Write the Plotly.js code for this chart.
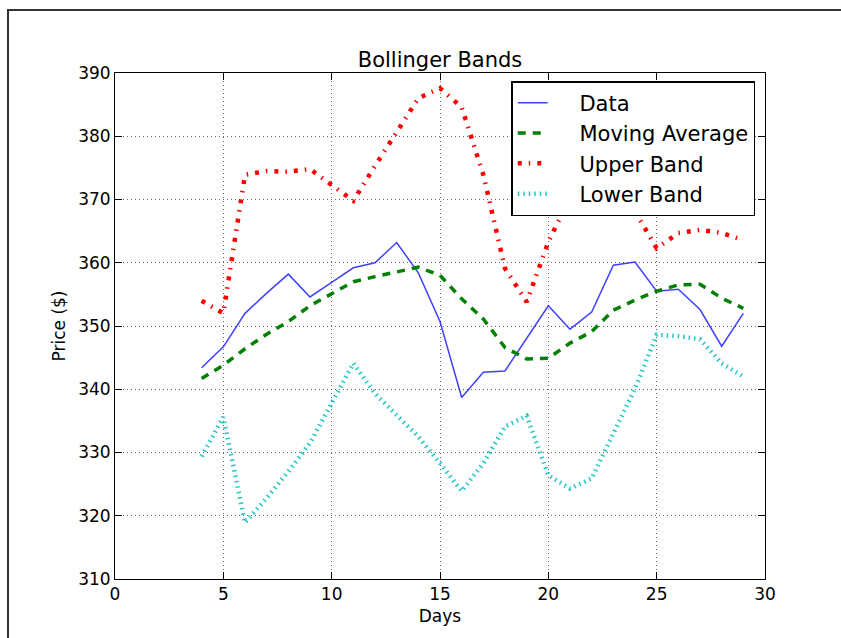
<!DOCTYPE html>
<html>
<head>
<meta charset="utf-8">
<script src="https://cdn.plot.ly/plotly-3.0.1.min.js"></script>
<style>
  html, body { margin: 0; padding: 0; background: #fff; }
  #frame { position: absolute; left: 7px; top: 9px; width: 900px; height: 700px;
           border-top: 2px solid #333; border-left: 2px solid #333; pointer-events: none; }
  #chart { width: 841px; height: 638px; }
</style>
</head>
<body>
<div id="chart"></div>
<div id="frame"></div>
<script>
const days = [4,5,6,7,8,9,10,11,12,13,14,15,16,17,18,19,20,21,22,23,24,25,26,27,28,29];
const price = [343.4,346.7,352.0,355.2,358.2,354.6,356.9,359.2,360.0,363.2,358.4,350.7,338.7,342.7,342.9,348.0,353.2,349.5,352.2,359.6,360.1,355.5,355.8,352.6,346.8,352.0];
const movingAvg = [341.7,343.8,346.4,348.7,350.7,353.2,355.1,357.0,357.8,358.6,359.3,358.0,354.3,351.1,346.6,344.8,344.9,347.3,349.1,352.5,354.1,355.5,356.5,356.6,354.4,352.8];
const upperBand = [354.0,352.0,373.9,374.5,374.4,374.8,372.3,369.8,375.3,380.8,386.0,387.6,384.6,373.9,359.1,353.8,363.3,370.3,372.3,372.0,368.1,362.3,364.7,365.2,364.7,363.6];
const lowerBand = [329.4,335.6,318.9,322.8,327.0,331.5,337.8,344.1,339.3,335.9,332.5,328.3,323.9,328.3,334.1,335.8,326.4,324.3,325.9,333.0,340.1,348.6,348.4,347.9,344.1,342.0];
const seriesNames = ["Data", "Moving Average", "Upper Band", "Lower Band"];
const xTicks = [0,5,10,15,20,25,30];
const yTicks = [310,320,330,340,350,360,370,380,390];

const pad = "\u00a0\u00a0\u00a0\u00a0";
const traces = [
  { x: days, y: price, name: pad + seriesNames[0], mode: "lines",
    line: { color: "rgba(0,0,255,0.75)", width: 1.5 } },
  { x: days, y: movingAvg, name: pad + seriesNames[1], mode: "lines",
    line: { color: "#008000", width: 3.5, dash: "8px,7px" } },
  { x: days, y: upperBand, name: pad + seriesNames[2], mode: "lines",
    line: { color: "#ff0000", width: 4.5, dash: "4px,7px,1.5px,7px" } },
  { x: days, y: lowerBand, name: pad + seriesNames[3], mode: "lines",
    line: { color: "#22c8c8", width: 4.5, dash: "1.5px,4px" } }
];

const axisCommon = {
  showline: true, linecolor: "#000", linewidth: 1, mirror: "ticks",
  ticks: "inside", ticklen: 7, tickcolor: "#000", tickwidth: 1,
  showgrid: true, gridcolor: "#666", gridwidth: 1, griddash: "1px,3px",
  zeroline: false, tickfont: { family: "DejaVu Sans", size: 17, color: "#000" }
};

const layout = {
  width: 841, height: 638,
  margin: { l: 115, r: 76, t: 73, b: 59, pad: 0 },
  paper_bgcolor: "#fff", plot_bgcolor: "#fff",
  font: { family: "DejaVu Sans", color: "#000" },
  title: { text: "Bollinger Bands", font: { family: "DejaVu Sans", size: 21, color: "#000" },
           x: 0.5, xref: "paper", xanchor: "center", y: 1, yref: "paper", yanchor: "bottom",
           pad: { b: 6 } },
  xaxis: Object.assign({}, axisCommon, {
    range: [0, 30], tickvals: xTicks, ticktext: xTicks.map(String),
    title: { text: "Days", font: { family: "DejaVu Sans", size: 17, color: "#000" }, standoff: 6 }
  }),
  yaxis: Object.assign({}, axisCommon, {
    range: [310, 390], tickvals: yTicks, ticktext: yTicks.map(String),
    title: { text: "Price ($)", font: { family: "DejaVu Sans", size: 17, color: "#000" }, standoff: 8 }
  }),
  showlegend: true,
  legend: {
    x: 0.985, xanchor: "right", y: 0.984, yanchor: "top",
    bgcolor: "#fff", bordercolor: "#000", borderwidth: 1.5,
    font: { family: "DejaVu Sans", size: 21, color: "#000" },
    tracegroupgap: 0
  }
};

Plotly.newPlot("chart", traces, layout, { displayModeBar: false, staticPlot: true });
</script>
</body>
</html>
